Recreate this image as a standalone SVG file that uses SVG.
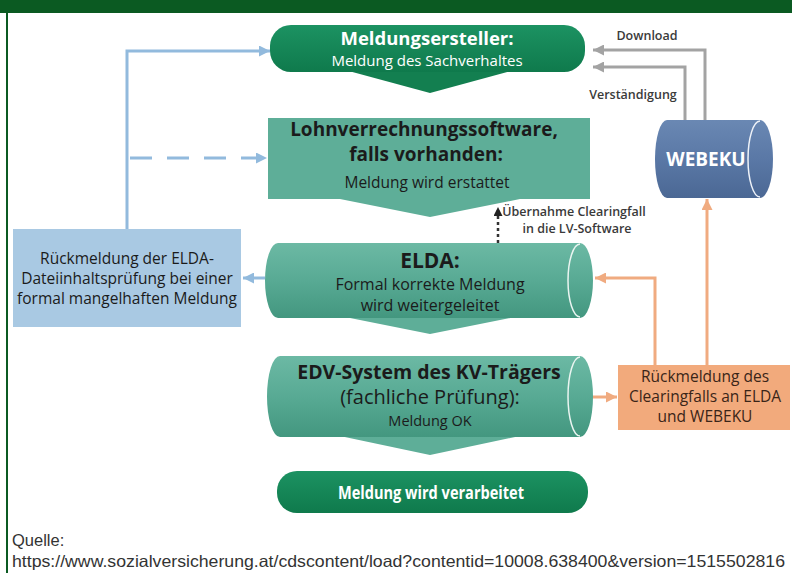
<svg xmlns="http://www.w3.org/2000/svg" width="792" height="573" viewBox="0 0 792 573">
<defs>
<style>
.t{font-family:"Open Sans","Noto Sans","DejaVu Sans",sans-serif;text-anchor:middle}
.w{fill:#ffffff}
.d{fill:#1b1b1b}
.b{font-weight:bold}
.blue{fill:none;stroke:#92badd;stroke-width:3}
.gray{fill:none;stroke:#a3a3a3;stroke-width:3}
.orange{fill:none;stroke:#f0ab80;stroke-width:3}
.lbl{font-family:"Open Sans","Noto Sans","DejaVu Sans",sans-serif;font-size:12.5px;font-weight:600;fill:#3a3a3a;text-anchor:middle}
.tri{fill:#5eae98}
</style>
<linearGradient id="gDark" x1="0" y1="0" x2="0" y2="1">
<stop offset="0" stop-color="#1c9262"/><stop offset="1" stop-color="#0f7a4c"/>
</linearGradient>
<linearGradient id="gTeal" x1="0" y1="0" x2="0" y2="1">
<stop offset="0" stop-color="#6cb9a4"/><stop offset="0.5" stop-color="#58aa94"/><stop offset="1" stop-color="#43977f"/>
</linearGradient>
<linearGradient id="gBlue" x1="0" y1="0" x2="0" y2="1">
<stop offset="0" stop-color="#6a88b3"/><stop offset="0.5" stop-color="#5a78a6"/><stop offset="1" stop-color="#4b6894"/>
</linearGradient>
<marker id="aBlue" viewBox="0 0 10 10" refX="10" refY="5" markerWidth="13" markerHeight="11" markerUnits="userSpaceOnUse" orient="auto"><path d="M0,0 L10,5 L0,10 Z" fill="#92badd"/></marker>
<marker id="aGray" viewBox="0 0 10 10" refX="10" refY="5" markerWidth="13" markerHeight="11" markerUnits="userSpaceOnUse" orient="auto"><path d="M0,0 L10,5 L0,10 Z" fill="#a3a3a3"/></marker>
<marker id="aOrange" viewBox="0 0 10 10" refX="10" refY="5" markerWidth="13" markerHeight="11" markerUnits="userSpaceOnUse" orient="auto"><path d="M0,0 L10,5 L0,10 Z" fill="#f0ab80"/></marker>
<marker id="aBlack" viewBox="0 0 10 10" refX="10" refY="5" markerWidth="9" markerHeight="9" markerUnits="userSpaceOnUse" orient="auto"><path d="M0,0 L10,5 L0,10 Z" fill="#222"/></marker>
</defs>
<rect x="0" y="0" width="792" height="573" fill="#ffffff"/>
<rect x="0" y="0" width="792" height="13" fill="#0b5a22"/>
<rect x="6" y="13" width="2" height="560" fill="#0b5a22"/>

<g id="connectors">
<path class="blue" d="M127,229 V51 H270" marker-end="url(#aBlue)"/>
<path class="blue" d="M130,158 H267" stroke-dasharray="22 15" marker-end="url(#aBlue)"/>
<path class="blue" d="M265,278 H243" marker-end="url(#aBlue)"/>
<path class="gray" d="M705,120 V50 H593" marker-end="url(#aGray)"/>
<path class="gray" d="M685,120 V67 H593" marker-end="url(#aGray)"/>
<path class="orange" d="M707,365 V199" marker-end="url(#aOrange)"/>
<path class="orange" d="M655,365 V278 H595" marker-end="url(#aOrange)"/>
<path class="orange" d="M592,397 H617" marker-end="url(#aOrange)"/>
<path d="M498,243 V207" fill="none" stroke="#333" stroke-width="2.5" stroke-dasharray="3 3" marker-end="url(#aBlack)"/>
<text class="lbl" x="647" y="40">Download</text>
<text class="lbl" x="633" y="99">Verständigung</text>
<text class="lbl" x="574" y="216">Übernahme Clearingfall</text>
<text class="lbl" x="577" y="233">in die LV-Software</text>
</g>

<g id="meldungsersteller">
<path d="M345,70 H515 L430,93 Z" fill="#137f50"/>
<rect x="270" y="25" width="315" height="47" rx="21" fill="url(#gDark)"/>
<text class="t w b" x="427" y="45" font-size="18.5">Meldungsersteller:</text>
<text class="t w" x="427" y="66" font-size="15">Meldung des Sachverhaltes</text>
</g>

<g id="lohnverrechnung">
<path class="tri" d="M340,199 H520 L430,217 Z"/>
<rect x="268" y="118" width="322" height="81" fill="#5eae98"/>
<text class="t d b" x="424" y="136" font-size="19">Lohnverrechnungssoftware,</text>
<text class="t d b" x="426" y="161" font-size="19">falls vorhanden:</text>
<text class="t d" x="427" y="188" font-size="15.5">Meldung wird erstattet</text>
</g>

<g id="elda">
<path class="tri" d="M340,316 H520 L430,334 Z"/>
<path d="M278,243 H580 A13,37.5 0 0 1 580,318 H278 A13,37.5 0 0 1 278,243 Z" fill="url(#gTeal)"/>
<path d="M580,244 A12,36.5 0 0 0 580,317" fill="none" stroke="#eaf5f1" stroke-width="1.5"/>
<text class="t d b" x="430" y="268" font-size="21">ELDA:</text>
<text class="t d" x="430" y="290" font-size="16">Formal korrekte Meldung</text>
<text class="t d" x="430" y="311" font-size="16">wird weitergeleitet</text>
</g>

<g id="edv">
<path class="tri" d="M340,436 H520 L430,455 Z"/>
<path d="M280,356 H580 A13,40.5 0 0 1 580,437 H280 A13,40.5 0 0 1 280,356 Z" fill="url(#gTeal)"/>
<path d="M580,357 A12,39.5 0 0 0 580,436" fill="none" stroke="#eaf5f1" stroke-width="1.5"/>
<text class="t d b" x="429" y="379" font-size="19.5">EDV-System des KV-Trägers</text>
<text class="t d" x="430" y="404" font-size="20">(fachliche Prüfung):</text>
<text class="t d" x="430" y="426" font-size="14.5">Meldung OK</text>
</g>

<g id="verarbeitet">
<rect x="277" y="471" width="311" height="42" rx="20" fill="url(#gDark)"/>
<text class="t w b" x="431" y="499" font-size="17.5" textLength="186" lengthAdjust="spacingAndGlyphs">Meldung wird verarbeitet</text>
</g>

<g id="webeku">
<path d="M667,120 H760 A13,39 0 0 1 760,198 H667 A12,39 0 0 1 667,120 Z" fill="url(#gBlue)"/>
<path d="M760,121 A12,38 0 0 0 760,197" fill="none" stroke="#eef2f8" stroke-width="1.5"/>
<text class="t w b" x="706" y="166" font-size="19">WEBEKU</text>
</g>

<g id="rueckmeldung-elda">
<rect x="13" y="229" width="228" height="98" fill="#a9c9e3"/>
<text class="t d" x="127" y="264" font-size="15.5">Rückmeldung der ELDA-</text>
<text class="t d" x="127" y="284" font-size="15.5">Dateiinhaltsprüfung bei einer</text>
<text class="t d" x="127" y="304" font-size="15.5">formal mangelhaften Meldung</text>
</g>

<g id="rueckmeldung-clearing">
<rect x="618" y="365" width="172" height="65" fill="#f2aa7c"/>
<text class="t" x="705" y="382" font-size="15.5" fill="#3a2518">Rückmeldung des</text>
<text class="t" x="705" y="402" font-size="15.5" fill="#3a2518">Clearingfalls an ELDA</text>
<text class="t" x="705" y="422" font-size="15.5" fill="#3a2518">und WEBEKU</text>
</g>

<g id="quelle">
<text x="12" y="546" font-family="Liberation Sans, Arial, sans-serif" font-size="16.5" fill="#333">Quelle:</text>
<text x="12" y="567" font-family="Liberation Sans, Arial, sans-serif" font-size="16.5" fill="#333" textLength="773" lengthAdjust="spacingAndGlyphs">https://www.sozialversicherung.at/cdscontent/load?contentid=10008.638400&amp;version=1515502816</text>
</g>
</svg>
